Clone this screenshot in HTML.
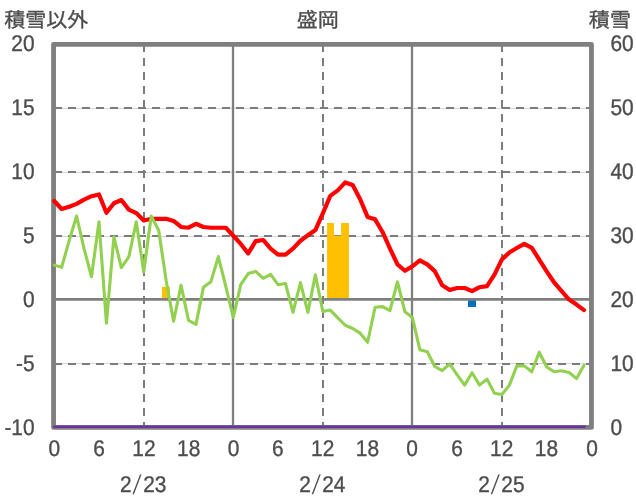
<!DOCTYPE html>
<html lang="ja"><head><meta charset="utf-8"><title>盛岡</title>
<style>html,body{margin:0;padding:0;background:#fff;overflow:hidden}svg{display:block}text{font-family:"Liberation Sans","Noto Sans CJK JP",sans-serif;font-size:21.33px;fill:#4d4d4d}text{stroke:#4d4d4d;stroke-width:.35px;text-rendering:geometricPrecision}.n{font-size:22px}.sl{stroke:none}svg{will-change:transform;opacity:.999}</style></head><body>
<svg width="636" height="501" viewBox="0 0 636 501">
<rect width="636" height="501" fill="#fff"/>
<line x1="53.55" x2="591.45" y1="108.5" y2="108.5" stroke="#d4d4d4" stroke-width="1"/>
<line x1="53.55" x2="591.45" y1="172.5" y2="172.5" stroke="#d4d4d4" stroke-width="1"/>
<line x1="53.55" x2="591.45" y1="236.5" y2="236.5" stroke="#d4d4d4" stroke-width="1"/>
<line x1="53.55" x2="591.45" y1="363.5" y2="363.5" stroke="#d4d4d4" stroke-width="1"/>
<line x1="54" x2="591.45" y1="108" y2="108" stroke="#7c7c7c" stroke-width="2" stroke-dasharray="8 6"/>
<line x1="54" x2="591.45" y1="172" y2="172" stroke="#7c7c7c" stroke-width="2" stroke-dasharray="8 6"/>
<line x1="54" x2="591.45" y1="236" y2="236" stroke="#7c7c7c" stroke-width="2" stroke-dasharray="8 6"/>
<line x1="54" x2="591.45" y1="364" y2="364" stroke="#7c7c7c" stroke-width="2" stroke-dasharray="8 6"/>
<line x1="144" x2="144" y1="44" y2="427.4" stroke="#7c7c7c" stroke-width="2" stroke-dasharray="8 6"/>
<line x1="323" x2="323" y1="44" y2="427.4" stroke="#7c7c7c" stroke-width="2" stroke-dasharray="8 6"/>
<line x1="502" x2="502" y1="44" y2="427.4" stroke="#7c7c7c" stroke-width="2" stroke-dasharray="8 6"/>
<line x1="233" x2="233" y1="44.4" y2="427.4" stroke="#7f7f7f" stroke-width="2.3"/>
<line x1="412" x2="412" y1="44.4" y2="427.4" stroke="#7f7f7f" stroke-width="2.3"/>
<rect x="162.0" y="286.84" width="7.90" height="12.76" fill="#ffc000"/>
<polygon points="327.1,299.6 327.1,223.01 334.0,223.01 334.0,235.78 341.1,235.78 341.1,223.01 348.9,223.01 348.9,299.6" fill="#ffc000"/>
<rect x="468.0" y="299.60" width="8.00" height="7.40" fill="#0070c0"/>
<line x1="53.55" x2="591.45" y1="299.4" y2="299.4" stroke="#7f7f7f" stroke-width="2.7"/>
<rect x="53.55" y="44.4" width="537.90" height="383.00" fill="none" stroke="#7f7f7f" stroke-width="4.8" stroke-linejoin="round"/>
<polyline points="54.20,201.05 61.66,208.97 69.12,206.67 76.59,203.86 84.05,199.65 91.51,196.20 98.97,194.42 106.43,212.80 113.90,203.22 121.36,200.03 128.82,209.61 136.28,213.05 143.74,220.46 151.21,218.80 158.67,218.80 166.13,218.80 173.59,220.97 181.05,226.97 188.52,227.73 195.98,223.78 203.44,226.97 210.90,227.73 218.36,227.73 225.83,227.73 233.29,235.78 240.75,243.94 248.21,253.39 255.67,241.14 263.14,239.99 270.60,248.67 278.06,254.67 285.52,254.67 292.98,248.67 300.45,240.75 307.91,235.26 315.37,230.03 322.83,213.44 330.29,195.82 337.76,190.33 345.22,182.42 352.68,185.10 360.14,199.27 367.60,216.88 375.07,219.31 382.53,231.95 389.99,248.54 397.45,264.37 404.91,270.75 412.38,266.41 419.84,260.41 427.30,264.37 434.76,271.13 442.22,285.30 449.69,290.03 457.15,287.98 464.61,287.98 472.07,291.18 479.53,287.22 487.00,286.07 494.46,274.58 501.92,259.39 509.38,252.50 516.84,248.03 524.31,243.82 531.77,247.77 539.23,259.52 546.69,271.39 554.15,282.49 561.62,291.18 569.08,299.60 576.54,304.58 584.00,310.07" fill="none" stroke="#ff0000" stroke-width="4.2" stroke-linejoin="round" stroke-linecap="round"/>
<polyline points="54.20,265.13 61.66,267.30 69.12,240.88 76.59,215.99 84.05,248.54 91.51,276.75 98.97,221.73 106.43,323.22 113.90,237.05 121.36,267.56 128.82,256.96 136.28,221.73 143.74,271.90 151.21,215.99 158.67,230.16 166.13,280.45 173.59,321.30 181.05,285.30 188.52,320.41 195.98,324.36 203.44,287.35 210.90,281.86 218.36,256.58 225.83,286.58 233.29,317.47 240.75,284.66 248.21,273.56 255.67,271.39 263.14,278.28 270.60,274.45 278.06,284.66 285.52,283.52 292.98,312.37 300.45,282.62 307.91,312.37 315.37,274.71 322.83,311.47 330.29,310.07 337.76,317.85 345.22,325.26 352.68,328.45 360.14,333.17 367.60,342.24 375.07,307.26 382.53,306.62 389.99,310.71 397.45,281.73 404.91,311.85 412.38,317.47 419.84,349.64 427.30,351.68 434.76,366.49 442.22,370.57 449.69,363.81 457.15,374.79 464.61,385.13 472.07,372.74 479.53,385.13 487.00,379.13 494.46,393.30 501.92,394.44 509.38,385.13 516.84,365.85 524.31,365.85 531.77,371.72 539.23,352.19 546.69,367.00 554.15,371.72 561.62,370.83 569.08,372.49 576.54,378.49 584.00,365.34" fill="none" stroke="#92d050" stroke-width="3.1" stroke-linejoin="round" stroke-linecap="round"/>
<line x1="54.20" x2="584.70" y1="426.8" y2="426.8" stroke="#7030a0" stroke-width="2.5" stroke-linecap="round"/>
<text transform="translate(4.30,26.65) scale(0.985,0.945)">積雪以外</text>
<text transform="translate(317.80,26.65) scale(0.985,0.945)" text-anchor="middle">盛岡</text>
<text transform="translate(630.90,26.65) scale(0.985,0.945)" text-anchor="end">積雪</text>
<text transform="translate(34.60,50.95) scale(0.95,1.03)" text-anchor="end" class="n">20</text>
<text transform="translate(610.50,50.80) scale(0.95,1.03)" class="n">60</text>
<text transform="translate(34.60,114.97) scale(0.95,1.03)" text-anchor="end" class="n">15</text>
<text transform="translate(610.50,114.82) scale(0.95,1.03)" class="n">50</text>
<text transform="translate(34.60,178.99) scale(0.95,1.03)" text-anchor="end" class="n">10</text>
<text transform="translate(610.50,178.84) scale(0.95,1.03)" class="n">40</text>
<text transform="translate(34.60,243.01) scale(0.95,1.03)" text-anchor="end" class="n">5</text>
<text transform="translate(610.50,242.86) scale(0.95,1.03)" class="n">30</text>
<text transform="translate(34.60,307.03) scale(0.95,1.03)" text-anchor="end" class="n">0</text>
<text transform="translate(610.50,306.88) scale(0.95,1.03)" class="n">20</text>
<text transform="translate(34.60,371.05) scale(0.95,1.03)" text-anchor="end" class="n">-5</text>
<text transform="translate(610.50,370.90) scale(0.95,1.03)" class="n">10</text>
<text transform="translate(34.60,435.07) scale(0.95,1.03)" text-anchor="end" class="n">-10</text>
<text transform="translate(610.50,434.92) scale(0.95,1.03)" class="n">0</text>
<text transform="translate(54.40,455.90) scale(0.95,1.03)" text-anchor="middle" class="n">0</text>
<text transform="translate(99.17,455.90) scale(0.95,1.03)" text-anchor="middle" class="n">6</text>
<text transform="translate(143.94,455.90) scale(0.95,1.03)" text-anchor="middle" class="n">12</text>
<text transform="translate(188.72,455.90) scale(0.95,1.03)" text-anchor="middle" class="n">18</text>
<text transform="translate(233.49,455.90) scale(0.95,1.03)" text-anchor="middle" class="n">0</text>
<text transform="translate(277.86,455.90) scale(0.95,1.03)" text-anchor="middle" class="n">6</text>
<text transform="translate(322.63,455.90) scale(0.95,1.03)" text-anchor="middle" class="n">12</text>
<text transform="translate(367.40,455.90) scale(0.95,1.03)" text-anchor="middle" class="n">18</text>
<text transform="translate(412.18,455.90) scale(0.95,1.03)" text-anchor="middle" class="n">0</text>
<text transform="translate(456.95,455.90) scale(0.95,1.03)" text-anchor="middle" class="n">6</text>
<text transform="translate(501.72,455.90) scale(0.95,1.03)" text-anchor="middle" class="n">12</text>
<text transform="translate(546.49,455.90) scale(0.95,1.03)" text-anchor="middle" class="n">18</text>
<text transform="translate(592.06,455.90) scale(0.95,1.03)" text-anchor="middle" class="n">0</text>
<text transform="translate(131.74,492.05) scale(0.95,1.03)" text-anchor="end" class="n">2</text>
<text transform="translate(132.54,494.0) skewX(-11) scale(0.85,1.22)" class="n sl">/</text>
<text transform="translate(143.14,492.05) scale(0.95,1.03)" class="n">23</text>
<text transform="translate(310.83,492.05) scale(0.95,1.03)" text-anchor="end" class="n">2</text>
<text transform="translate(311.63,494.0) skewX(-11) scale(0.85,1.22)" class="n sl">/</text>
<text transform="translate(322.23,492.05) scale(0.95,1.03)" class="n">24</text>
<text transform="translate(489.92,492.05) scale(0.95,1.03)" text-anchor="end" class="n">2</text>
<text transform="translate(490.72,494.0) skewX(-11) scale(0.85,1.22)" class="n sl">/</text>
<text transform="translate(501.32,492.05) scale(0.95,1.03)" class="n">25</text>
</svg></body></html>
